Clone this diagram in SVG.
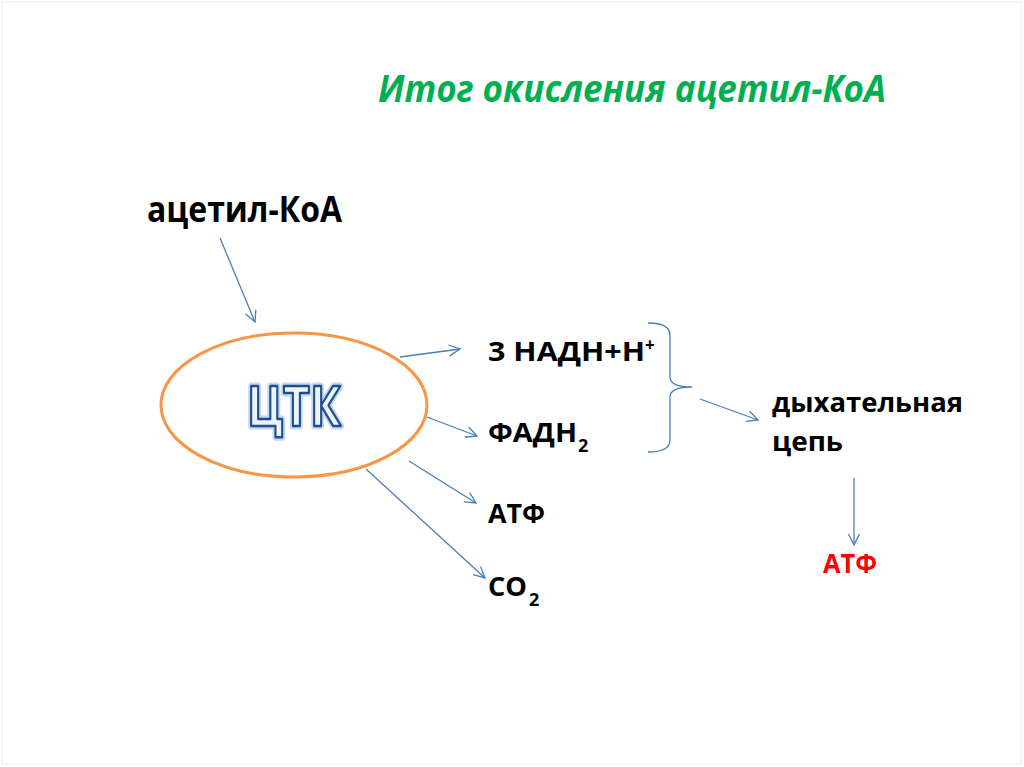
<svg xmlns="http://www.w3.org/2000/svg" width="1024" height="767" viewBox="0 0 1024 767">
<style>
.t{font-family:"Open Sans","Noto Sans","DejaVu Sans",sans-serif;font-weight:bold;fill:#000}
.c{fill:none;stroke:#4A7EBB;stroke-width:1.3}
</style>
<defs>
<marker id="ah" markerUnits="userSpaceOnUse" markerWidth="16" markerHeight="16" refX="12" refY="6" orient="auto">
<path d="M1,0.5 L12,6 L1,11.5" fill="none" stroke="#4A7EBB" stroke-width="1.3"/>
</marker>
</defs>
<rect x="0" y="0" width="1024" height="767" fill="#fff"/>
<rect x="2" y="2" width="1019" height="762" fill="none" stroke="#f2f2f2" stroke-width="1.5"/>
<g id="title">
<text class="t" x="378" y="102" font-size="38" font-style="italic" textLength="508" lengthAdjust="spacingAndGlyphs" style="fill:#00B050">Итог окисления ацетил-КоА</text>
</g>
<g id="acetyl">
<text class="t" x="147" y="222" font-size="35" textLength="195" lengthAdjust="spacingAndGlyphs">ацетил-КоА</text>
</g>
<g id="ctk">
<ellipse cx="294" cy="405" rx="133" ry="72" fill="#fff" stroke="#F79646" stroke-width="3"/>
<text x="247" y="426" font-family="Open Sans,Noto Sans,sans-serif" font-weight="bold" font-size="55" textLength="94" lengthAdjust="spacingAndGlyphs" fill="none" stroke="#C6D9F1" stroke-width="7" stroke-linejoin="round">ЦТК</text>
<text x="247" y="426" font-family="Open Sans,Noto Sans,sans-serif" font-weight="bold" font-size="55" textLength="94" lengthAdjust="spacingAndGlyphs" fill="#EEF3F9" stroke="#1F4E8C" stroke-width="2.5" stroke-linejoin="round">ЦТК</text>
</g>
<g id="nadh">
<text class="t" x="488" y="361" font-size="27" textLength="157" lengthAdjust="spacingAndGlyphs">3 НАДН+Н</text>
<text class="t" x="645" y="351" font-size="17">+</text>
</g>
<g id="fadh">
<text class="t" x="488" y="442" font-size="27" textLength="89" lengthAdjust="spacingAndGlyphs">ФАДН</text>
<text class="t" x="578" y="452" font-size="18">2</text>
</g>
<g id="atp1">
<text class="t" x="488" y="523" font-size="27" textLength="57" lengthAdjust="spacingAndGlyphs">АТФ</text>
</g>
<g id="co2">
<text class="t" x="488" y="596" font-size="27" textLength="39" lengthAdjust="spacingAndGlyphs">СО</text>
<text class="t" x="529" y="606" font-size="18">2</text>
</g>
<g id="resp">
<text class="t" x="772" y="412" font-size="27" textLength="191" lengthAdjust="spacingAndGlyphs">дыхательная</text>
<text class="t" x="772" y="451" font-size="27" textLength="71" lengthAdjust="spacingAndGlyphs">цепь</text>
</g>
<g id="atp2">
<text class="t" x="823" y="573" font-size="27" textLength="54" lengthAdjust="spacingAndGlyphs" style="fill:#FF0000">АТФ</text>
</g>
<g id="connectors">
<line class="c" x1="220" y1="238" x2="255" y2="322" marker-end="url(#ah)"/>
<line class="c" x1="400" y1="357" x2="460" y2="349" marker-end="url(#ah)"/>
<line class="c" x1="427" y1="417" x2="477" y2="436" marker-end="url(#ah)"/>
<line class="c" x1="409" y1="461" x2="476" y2="503" marker-end="url(#ah)"/>
<line class="c" x1="366" y1="469" x2="485" y2="578" marker-end="url(#ah)"/>
<path class="c" d="M648,323 Q670,323 670,335 L670,377 Q670,387 692,387 Q670,387 670,397 L670,440 Q670,452 648,452"/>
<line class="c" x1="700" y1="399" x2="758" y2="420" marker-end="url(#ah)"/>
<line class="c" x1="854" y1="478" x2="854" y2="545" marker-end="url(#ah)"/>
</g>
</svg>
